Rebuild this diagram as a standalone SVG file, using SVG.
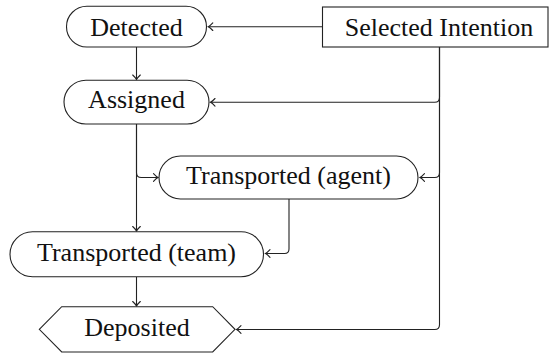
<svg xmlns="http://www.w3.org/2000/svg" width="549" height="353" viewBox="0 0 549 353">
<style>
.n{fill:#fff;stroke:#222;stroke-width:1.1}
.t{font-family:"Liberation Serif","Times New Roman",serif;font-size:26px;fill:#111;text-anchor:middle}
.c{fill:none;stroke:#222;stroke-width:1.1}
</style>
<defs>
<marker id="ah" markerUnits="userSpaceOnUse" markerWidth="12" markerHeight="12" refX="0" refY="0" viewBox="-7 -6 8 12" orient="auto" overflow="visible">
<path d="M -4.5 -3.8 Q -1.6 -0.7 0 0 Q -1.6 0.7 -4.5 3.8" fill="none" stroke="#222" stroke-width="1.1" stroke-linecap="round"/>
</marker>
</defs>
<g id="connectors">
<path class="c" d="M 322.5 26.7 H 208.3" marker-end="url(#ah)"/>
<path class="c" d="M 136.5 47 V 79.5" marker-end="url(#ah)"/>
<path class="c" d="M 439.5 47 V 97.5 Q 439.5 102.3 434.7 102.3 H 210.5" marker-end="url(#ah)"/>
<path class="c" d="M 439.5 47 V 172.7 Q 439.5 177.5 434.7 177.5 H 420" marker-end="url(#ah)"/>
<path class="c" d="M 439.5 47 V 324.7 Q 439.5 329.5 434.7 329.5 H 236.5" marker-end="url(#ah)"/>
<path class="c" d="M 136.5 124 V 231" marker-end="url(#ah)"/>
<path class="c" d="M 136.5 124 V 172.7 Q 136.5 177.5 141.3 177.5 H 158" marker-end="url(#ah)"/>
<path class="c" d="M 289 199 V 249 Q 289 253.5 284.5 253.5 H 265.5" marker-end="url(#ah)"/>
<path class="c" d="M 136.5 277 V 306" marker-end="url(#ah)"/>
</g>
<g id="selected-intention">
<rect class="n" x="322.5" y="7" width="225.5" height="40"/>
<text class="t" x="439" y="36">Selected Intention</text>
</g>
<g id="detected">
<rect class="n" x="66.5" y="6.3" width="140" height="40.7" rx="20.35"/>
<text class="t" x="136.5" y="35.5">Detected</text>
</g>
<g id="assigned">
<rect class="n" x="64" y="80.2" width="145" height="43.8" rx="21.9"/>
<text class="t" x="136.5" y="108">Assigned</text>
</g>
<g id="transported-agent">
<rect class="n" x="159" y="156" width="259" height="43" rx="21.5"/>
<text class="t" x="288.5" y="184">Transported (agent)</text>
</g>
<g id="transported-team">
<rect class="n" x="10" y="231.7" width="253.5" height="45" rx="22.5"/>
<text class="t" x="136.5" y="260.5">Transported (team)</text>
</g>
<g id="deposited">
<polygon class="n" points="39.3,329.3 61.7,306.7 212.7,306.7 235,329.3 212.7,352 61.7,352"/>
<text class="t" x="137" y="336">Deposited</text>
</g>
</svg>
